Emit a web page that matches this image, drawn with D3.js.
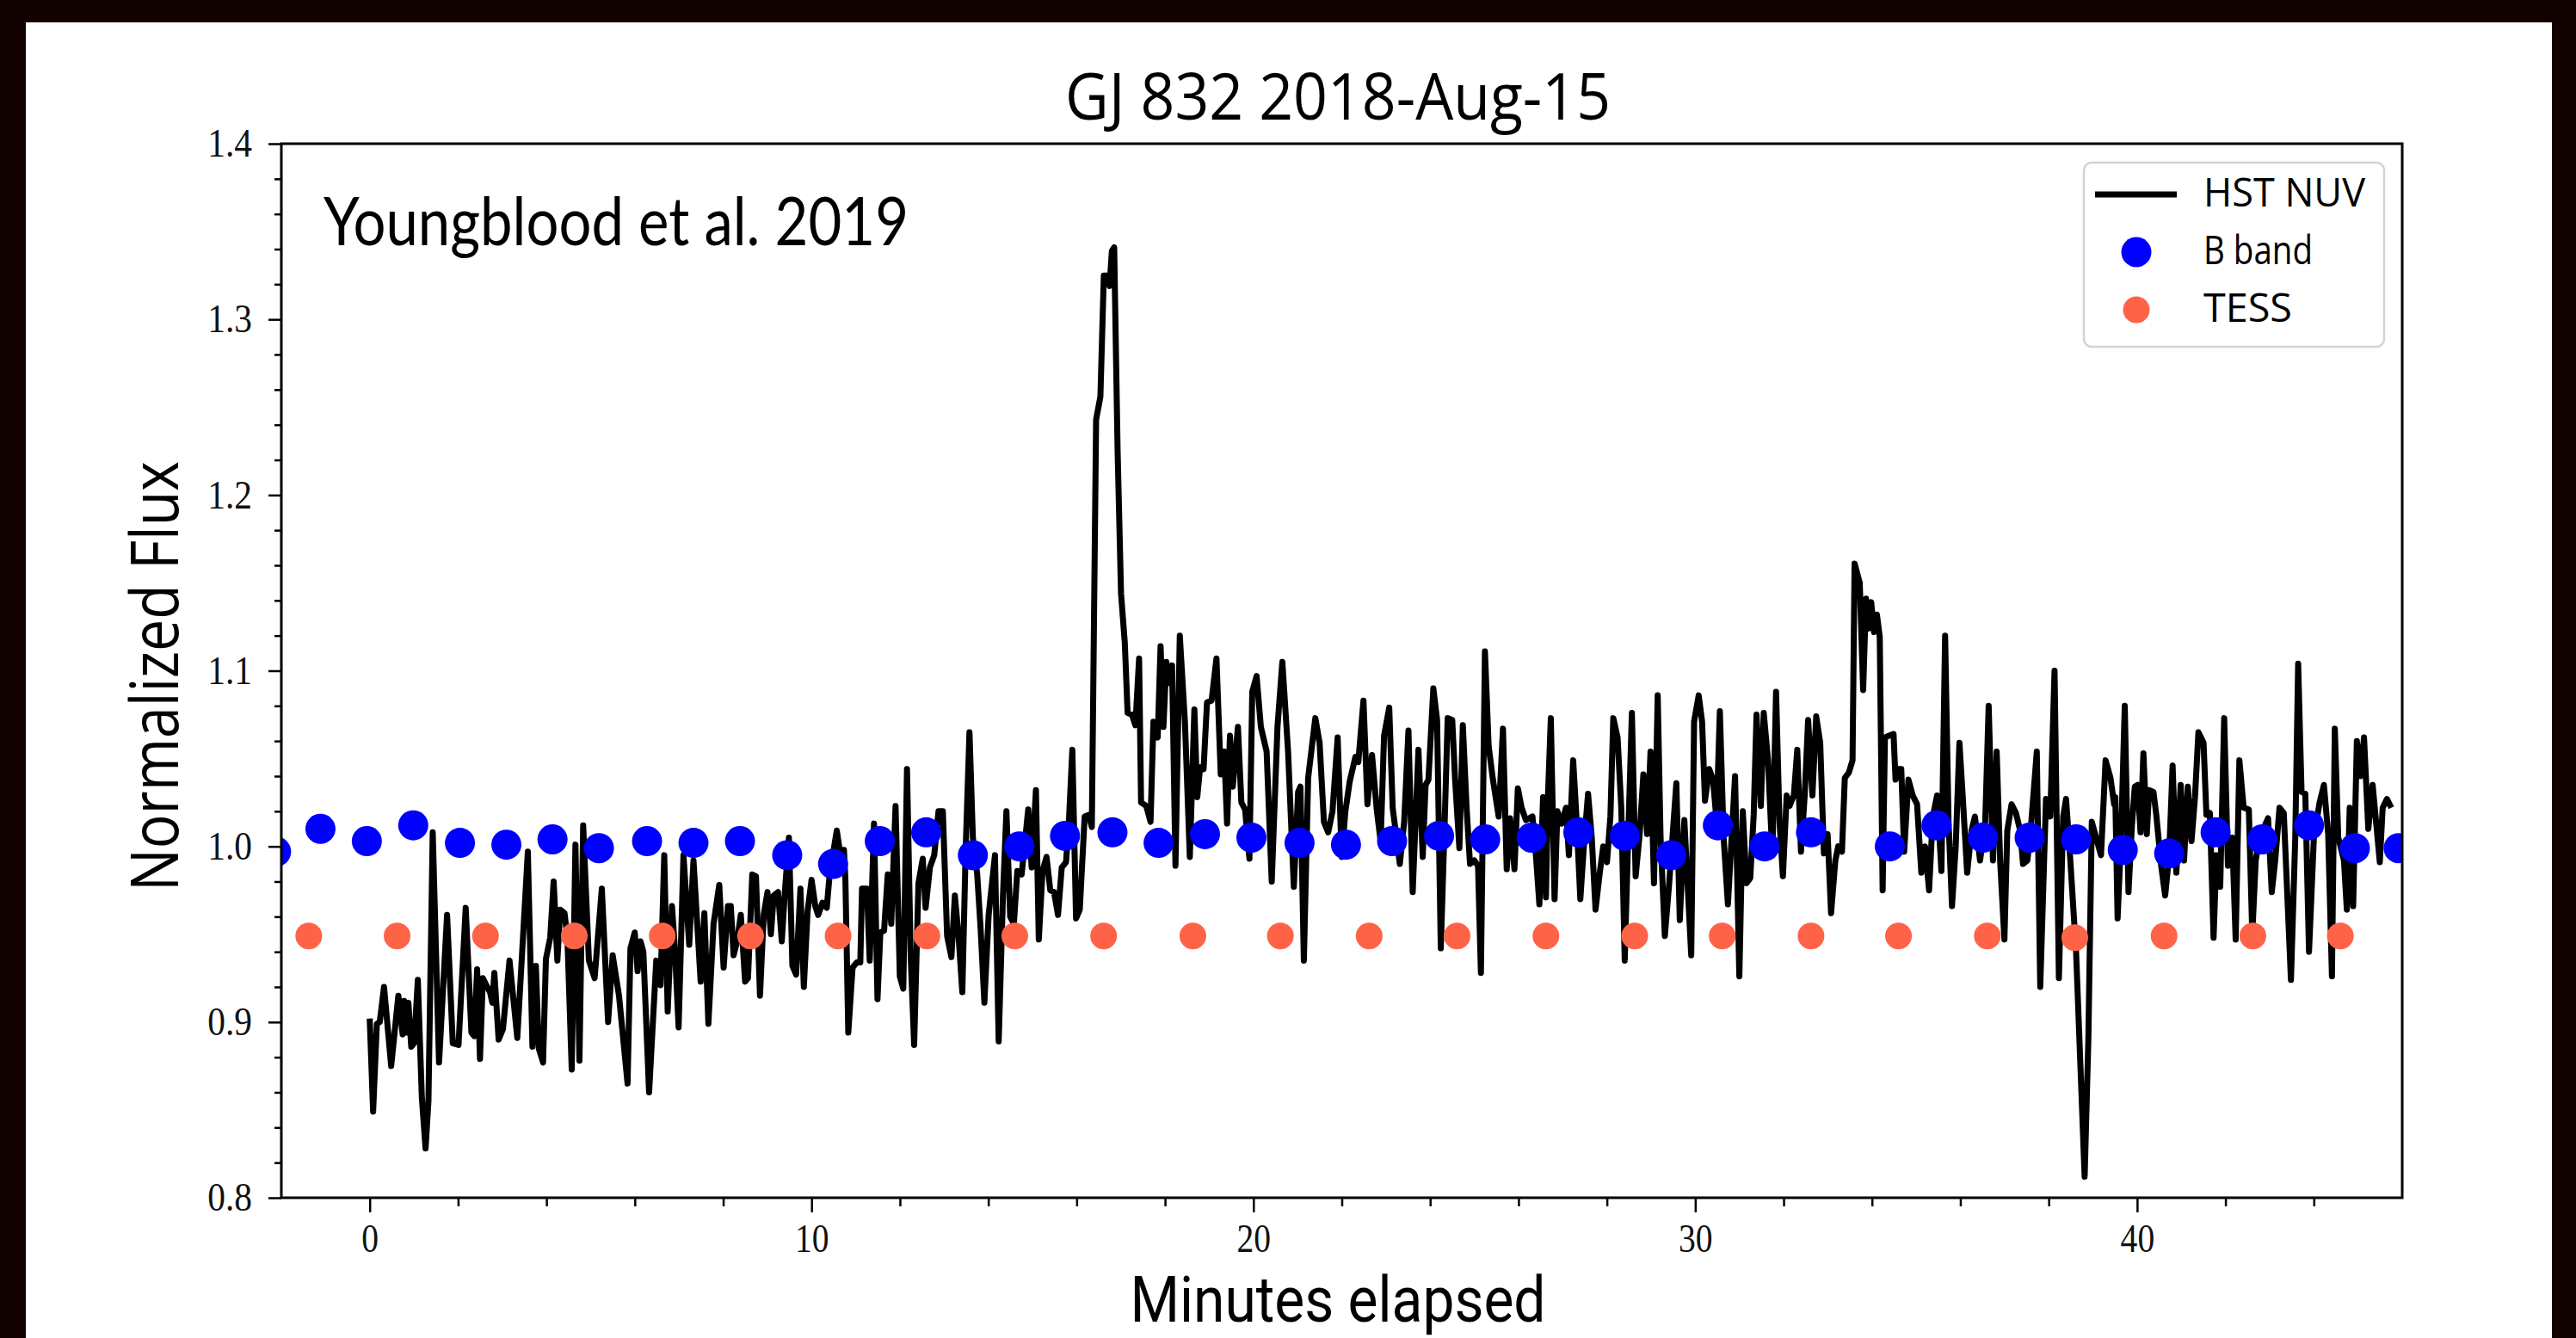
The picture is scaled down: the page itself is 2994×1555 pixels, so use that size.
<!DOCTYPE html>
<html lang="en">
<head>
<meta charset="utf-8">
<title>GJ 832 2018-Aug-15</title>
<script src="https://d3js.org/d3.v7.min.js"></script>
<style>
  body { margin: 0; background: #120101; }
  .tick text { font-family: "Liberation Serif", serif; font-size: 46px; fill: #111; }
  .tick line { stroke: #000; stroke-width: 2.5; }
  .sans { font-family: "Open Sans", sans-serif; fill: #000; }
</style>
</head>
<body>
<script>
// HST NUV light curve: [minutes elapsed, normalized flux]
var hst = [
  [0.000,0.902],[0.077,0.849],[0.162,0.899],[0.227,0.900],[0.324,0.920],[0.486,0.875],[0.648,0.915],[0.745,0.893],[0.778,0.912],[0.843,0.894],
  [0.875,0.911],[0.940,0.886],[1.005,0.888],[1.089,0.924],[1.180,0.857],[1.264,0.828],[1.329,0.855],[1.426,1.008],[1.569,0.877],[1.751,0.961],
  [1.880,0.888],[2.010,0.887],[2.172,0.965],[2.302,0.894],[2.367,0.892],[2.431,0.930],[2.496,0.879],[2.561,0.925],[2.658,0.920],[2.723,0.917],
  [2.775,0.911],[2.821,0.928],[2.918,0.890],[3.015,0.896],[3.164,0.935],[3.340,0.891],[3.579,0.997],[3.683,0.886],[3.761,0.932],[3.826,0.885],
  [3.923,0.877],[3.988,0.936],[4.085,0.948],[4.163,0.980],[4.247,0.935],[4.312,0.964],[4.409,0.962],[4.474,0.948],[4.572,0.873],[4.656,1.001],
  [4.747,0.878],[4.831,1.012],[4.961,0.935],[5.090,0.925],[5.253,0.976],[5.395,0.900],[5.499,0.938],[5.642,0.915],[5.836,0.865],[5.901,0.942],
  [5.998,0.951],[6.063,0.929],[6.128,0.946],[6.193,0.940],[6.323,0.860],[6.485,0.935],[6.582,0.921],[6.666,0.995],[6.744,0.906],[6.841,0.966],
  [6.906,0.942],[6.991,0.897],[7.101,0.995],[7.231,0.944],[7.328,0.992],[7.490,0.923],[7.574,0.962],[7.665,0.899],[7.782,0.956],[7.911,0.978],
  [8.010,0.931],[8.107,0.966],[8.172,0.966],[8.236,0.938],[8.314,0.946],[8.399,0.961],[8.496,0.923],[8.561,0.925],[8.658,0.984],[8.742,0.983],
  [8.833,0.915],[8.917,0.961],[9.002,0.974],[9.080,0.950],[9.144,0.972],[9.242,0.974],[9.326,0.946],[9.404,0.977],[9.488,1.005],[9.566,0.932],
  [9.650,0.927],[9.748,0.976],[9.825,0.920],[9.910,0.963],[10.000,0.981],[10.085,0.966],[10.150,0.961],[10.247,0.968],[10.344,0.965],[10.409,0.984],
  [10.571,1.009],[10.636,0.998],[10.733,0.998],[10.766,0.981],[10.831,0.894],[10.928,0.931],[11.025,0.934],[11.103,0.934],[11.142,0.976],[11.252,0.976],
  [11.317,0.935],[11.414,1.013],[11.492,0.913],[11.557,0.951],[11.641,0.952],[11.725,0.984],[11.803,0.956],[11.901,1.023],[11.998,0.926],[12.076,0.919],
  [12.160,1.044],[12.244,0.937],[12.322,0.887],[12.419,0.979],[12.517,0.993],[12.581,0.965],[12.679,0.988],[12.776,0.995],[12.873,1.020],[12.971,1.020],
  [13.068,0.949],[13.165,0.937],[13.243,0.972],[13.327,0.949],[13.412,0.917],[13.490,1.000],[13.574,1.065],[13.651,1.005],[13.749,0.984],[13.827,0.953],
  [13.911,0.911],[14.008,0.961],[14.151,0.995],[14.235,0.889],[14.332,0.972],[14.410,1.020],[14.495,0.960],[14.579,0.956],[14.657,0.986],[14.754,0.984],
  [14.819,1.000],[14.903,1.021],[14.981,0.988],[15.078,1.032],[15.143,0.947],[15.227,0.986],[15.318,0.994],[15.403,0.975],[15.487,0.974],[15.578,0.961],
  [15.662,0.988],[15.759,0.991],[15.824,1.014],[15.902,1.055],[15.986,0.959],[16.070,0.964],[16.181,1.017],[16.278,1.018],[16.343,1.011],[16.440,1.243],
  [16.537,1.256],[16.615,1.325],[16.699,1.325],[16.745,1.319],[16.797,1.339],[16.849,1.341],[16.926,1.226],[17.004,1.144],[17.089,1.116],[17.153,1.076],
  [17.251,1.075],[17.329,1.069],[17.413,1.107],[17.458,1.025],[17.575,1.023],[17.672,1.014],[17.737,1.071],[17.834,1.062],[17.899,1.114],[17.964,1.068],
  [18.029,1.105],[18.094,1.093],[18.159,1.103],[18.236,0.989],[18.334,1.120],[18.450,1.071],[18.561,0.994],[18.664,1.078],[18.729,1.028],[18.794,1.045],
  [18.872,1.044],[18.950,1.082],[19.054,1.083],[19.164,1.107],[19.261,1.041],[19.339,1.054],[19.404,1.013],[19.469,1.063],[19.533,1.034],[19.650,1.068],
  [19.728,1.025],[19.812,1.021],[19.910,0.993],[19.974,1.088],[20.072,1.097],[20.169,1.068],[20.299,1.054],[20.415,0.980],[20.545,1.068],[20.655,1.105],
  [20.785,1.054],[20.915,0.977],[21.012,1.031],[21.064,1.034],[21.142,0.935],[21.239,1.039],[21.401,1.073],[21.498,1.059],[21.596,1.014],[21.693,1.008],
  [21.790,1.020],[21.907,1.062],[21.998,0.994],[22.082,1.020],[22.180,1.037],[22.309,1.051],[22.374,1.048],[22.491,1.083],[22.581,1.024],[22.685,1.052],
  [22.795,1.020],[22.880,1.003],[22.957,1.063],[23.074,1.079],[23.152,1.022],[23.314,0.990],[23.412,1.014],[23.509,1.066],[23.605,0.974],[23.735,1.055],
  [23.832,0.994],[23.897,1.035],[23.962,1.038],[24.072,1.090],[24.157,1.072],[24.241,0.942],[24.319,1.005],[24.397,1.073],[24.500,1.072],[24.565,1.038],
  [24.662,0.999],[24.740,1.069],[24.825,1.022],[24.902,0.990],[24.999,0.992],[25.084,0.989],[25.149,0.928],[25.240,1.111],[25.324,1.057],[25.421,1.038],
  [25.551,1.017],[25.648,1.067],[25.733,0.987],[25.810,1.016],[25.908,0.987],[25.985,1.033],[26.070,1.022],[26.167,1.015],[26.316,1.017],[26.394,0.995],
  [26.472,0.967],[26.556,1.028],[26.621,0.971],[26.666,1.028],[26.731,1.073],[26.816,0.970],[26.880,1.020],[26.978,1.013],[27.075,1.022],[27.140,0.995],
  [27.237,1.049],[27.315,1.015],[27.399,0.970],[27.484,1.002],[27.574,1.030],[27.658,1.005],[27.743,0.964],[27.834,0.984],[27.918,1.000],[28.002,0.991],
  [28.080,1.017],[28.145,1.073],[28.242,1.062],[28.326,1.022],[28.404,0.935],[28.482,1.005],[28.566,1.076],[28.651,0.983],[28.742,1.007],[28.826,1.041],
  [28.910,1.007],[28.988,1.054],[29.066,0.979],[29.150,1.086],[29.215,1.005],[29.312,0.949],[29.410,0.979],[29.572,1.036],[29.650,0.958],[29.753,1.015],
  [29.909,0.938],[29.974,1.071],[30.078,1.086],[30.155,1.071],[30.220,1.026],[30.317,1.044],[30.402,1.038],[30.480,1.015],[30.557,1.077],[30.642,1.005],
  [30.739,0.967],[30.901,1.040],[30.998,0.926],[31.076,1.020],[31.160,0.979],[31.245,0.982],[31.323,1.018],[31.387,1.075],[31.485,1.023],[31.550,1.076],
  [31.647,1.049],[31.745,0.995],[31.829,1.088],[31.907,1.014],[31.984,0.983],[32.069,1.029],[32.134,1.023],[32.231,1.029],[32.309,1.055],[32.393,0.997],
  [32.477,1.029],[32.555,1.072],[32.652,1.029],[32.737,1.074],[32.828,1.059],[32.912,0.996],[32.996,1.007],[33.074,0.962],[33.171,0.992],[33.236,1.000],
  [33.320,0.997],[33.385,1.039],[33.476,1.042],[33.560,1.049],[33.606,1.161],[33.723,1.150],[33.800,1.089],[33.865,1.141],[33.917,1.124],[33.982,1.139],
  [34.047,1.122],[34.112,1.132],[34.176,1.119],[34.241,0.975],[34.293,1.062],[34.384,1.063],[34.488,1.064],[34.533,1.038],[34.598,1.044],[34.663,1.044],
  [34.728,0.997],[34.825,1.038],[34.922,1.029],[35.020,1.024],[35.117,0.985],[35.201,1.000],[35.292,0.975],[35.376,1.017],[35.474,1.029],[35.571,0.986],
  [35.655,1.120],[35.733,1.014],[35.811,0.966],[35.895,1.000],[35.979,1.059],[36.057,1.027],[36.154,0.985],[36.252,1.009],[36.329,1.017],[36.446,0.992],
  [36.563,1.014],[36.641,1.080],[36.738,0.992],[36.822,1.054],[36.900,0.992],[36.997,0.947],[37.062,1.009],[37.160,1.024],[37.257,1.019],[37.354,1.009],
  [37.419,0.990],[37.516,0.992],[37.581,1.006],[37.730,1.054],[37.808,0.920],[37.938,1.027],[38.035,1.017],[38.132,1.100],[38.230,0.925],[38.327,1.017],
  [38.392,1.027],[38.489,0.992],[38.619,0.940],[38.813,0.812],[38.897,0.890],[38.975,1.014],[39.073,1.005],[39.183,0.995],[39.287,1.049],[39.397,1.039],
  [39.481,1.024],[39.507,1.028],[39.559,0.959],[39.637,1.005],[39.721,1.080],[39.805,0.974],[39.883,1.012],[39.948,1.034],[40.013,1.035],[40.078,1.008],
  [40.143,1.053],[40.220,1.007],[40.272,1.032],[40.370,1.031],[40.434,1.018],[40.545,0.989],[40.635,0.972],[40.726,0.995],[40.804,1.046],[40.888,0.985],
  [40.986,1.035],[41.063,0.992],[41.148,1.034],[41.232,1.003],[41.310,1.028],[41.388,1.065],[41.504,1.059],[41.569,1.018],[41.647,1.019],[41.731,0.948],
  [41.796,0.995],[41.881,0.977],[41.971,1.073],[42.056,0.989],[42.153,1.005],[42.231,0.947],[42.315,1.049],[42.412,1.022],[42.529,1.021],[42.607,0.950],
  [42.685,0.992],[42.769,1.005],[42.964,1.016],[43.048,0.974],[43.126,0.992],[43.223,1.022],[43.320,1.019],[43.482,0.924],[43.580,1.005],[43.645,1.104],
  [43.722,1.031],[43.807,1.030],[43.891,0.940],[44.001,1.005],[44.131,1.025],[44.228,1.035],[44.325,1.007],[44.410,0.926],[44.475,1.067],[44.552,1.005],
  [44.682,0.992],[44.747,0.964],[44.812,1.022],[44.890,0.966],[44.974,1.060],[45.058,1.040],[45.136,1.062],[45.233,1.010],[45.331,1.035],[45.493,0.991],
  [45.558,1.022],[45.655,1.027],[45.753,1.022]
];

// B band photometry
var bandTime = [-2.12, -1.115, -0.065, 0.985, 2.042, 3.093, 4.137, 5.188, 6.277, 7.328, 8.379, 9.449, 10.487, 11.544, 12.594, 13.651,
  14.702, 15.736, 16.810, 17.854, 18.904, 19.955, 21.044, 22.095, 23.139, 24.202, 25.246, 26.297, 27.354, 28.404, 29.455, 30.512,
  31.570, 32.620, 34.403, 35.460, 36.511, 37.568, 38.619, 39.676, 40.726, 41.777, 42.834, 43.891, 44.929, 45.92];
var bandFlux = [0.997, 1.010, 1.003, 1.012, 1.002, 1.001, 1.004, 0.999, 1.003, 1.002, 1.003, 0.995, 0.990, 1.003, 1.008, 0.995,
  1.000, 1.006, 1.008, 1.002, 1.007, 1.005, 1.002, 1.001, 1.003, 1.006, 1.004, 1.005, 1.008, 1.006, 0.995, 1.012,
  1.000, 1.008, 1.000, 1.012, 1.005, 1.005, 1.004, 0.998, 0.996, 1.008, 1.004, 1.012, 0.999, 0.999];

// TESS 2-minute cadence
var tessTime = [-1.38, 0.62, 2.62, 4.63, 6.62, 8.62, 10.60, 12.61, 14.60, 16.61, 18.63, 20.61,
  22.62, 24.61, 26.62, 28.63, 30.61, 32.62, 34.60, 36.61, 38.59, 40.61, 42.62, 44.60];
var tessFlux = [0.949, 0.949, 0.949, 0.949, 0.949, 0.949, 0.949, 0.949, 0.949, 0.949, 0.949, 0.949,
  0.949, 0.949, 0.949, 0.949, 0.949, 0.949, 0.949, 0.949, 0.948, 0.949, 0.949, 0.949];

var xMajor = [0, 10, 20, 30, 40];
var yMajor = [0.8, 0.9, 1.0, 1.1, 1.2, 1.3, 1.4];
var legendLabels = ['HST NUV', 'B band', 'TESS'];

var W = 2994, H = 1555;
var plot = {left: 327, right: 2792, top: 167, bottom: 1392};

var svg = d3.select('body').append('svg')
    .attr('width', W)
    .attr('height', H)
    .style('display', 'block');

svg.append('rect')
    .attr('x', 30).attr('y', 26)
    .attr('width', 2936).attr('height', H - 26)
    .attr('fill', '#fff');

var x = d3.scaleLinear().domain([-2, 46]).range([plot.left, plot.right]);
var y = d3.scaleLinear().domain([0.8, 1.4]).range([plot.bottom, plot.top]);

var xMinor = x.ticks(24).filter(function(v) { return v % 10 !== 0 && v > -2 && v < 46; });
var yMinor = y.ticks(30).filter(function(v) { return Math.abs(v * 10 - Math.round(v * 10)) > 1e-6; });

// squeeze text horizontally, the source figure is a bit condensed
function squeeze(sel, k) {
  sel.each(function() {
    var w = this.getComputedTextLength();
    d3.select(this).attr('textLength', w * k).attr('lengthAdjust', 'spacingAndGlyphs');
  });
}

// axes
var gxMinor = svg.append('g').attr('transform', 'translate(0,' + plot.bottom + ')')
    .call(d3.axisBottom(x).tickValues(xMinor).tickSize(10).tickFormat(''));
var gx = svg.append('g').attr('transform', 'translate(0,' + plot.bottom + ')')
    .call(d3.axisBottom(x).tickValues(xMajor).tickSize(17).tickPadding(13).tickFormat(d3.format('d')));
var gyMinor = svg.append('g').attr('transform', 'translate(' + plot.left + ',0)')
    .call(d3.axisLeft(y).tickValues(yMinor).tickSize(8).tickFormat(''));
var gy = svg.append('g').attr('transform', 'translate(' + plot.left + ',0)')
    .call(d3.axisLeft(y).tickValues(yMajor).tickSize(15).tickPadding(19).tickFormat(d3.format('.1f')));

svg.selectAll('.domain').remove();
svg.selectAll('.tick text').attr('font-family', null).attr('font-size', null);
squeeze(gx.selectAll('.tick text'), 0.86);
squeeze(gy.selectAll('.tick text'), 0.9);

// data
svg.append('clipPath').attr('id', 'plotclip')
  .append('rect')
    .attr('x', plot.left).attr('y', plot.top)
    .attr('width', plot.right - plot.left).attr('height', plot.bottom - plot.top);

var data = svg.append('g').attr('clip-path', 'url(#plotclip)');

var line = d3.line()
    .x(function(d) { return x(d[0]); })
    .y(function(d) { return y(d[1]); });

data.append('path')
    .datum(hst)
    .attr('d', line)
    .attr('fill', 'none')
    .attr('stroke', '#000')
    .attr('stroke-width', 7)
    .attr('stroke-linejoin', 'round');

data.selectAll('.band')
    .data(bandTime)
  .enter().append('circle')
    .attr('class', 'band')
    .attr('cx', function(d) { return x(d); })
    .attr('cy', function(d, i) { return y(bandFlux[i]); })
    .attr('r', 17.5)
    .attr('fill', '#0000ff');

data.selectAll('.tess')
    .data(tessTime)
  .enter().append('circle')
    .attr('class', 'tess')
    .attr('cx', function(d) { return x(d); })
    .attr('cy', function(d, i) { return y(tessFlux[i]); })
    .attr('r', 15.5)
    .attr('fill', 'tomato');

// spines
svg.append('rect')
    .attr('x', plot.left).attr('y', plot.top)
    .attr('width', plot.right - plot.left).attr('height', plot.bottom - plot.top)
    .attr('fill', 'none')
    .attr('stroke', '#000')
    .attr('stroke-width', 3);

// titles
svg.append('text').attr('class', 'sans')
    .attr('x', 1555).attr('y', 139)
    .attr('text-anchor', 'middle')
    .attr('font-size', 75)
    .attr('textLength', 634).attr('lengthAdjust', 'spacingAndGlyphs')
    .text('GJ 832 2018-Aug-15');

svg.append('text')
    .attr('x', 1555).attr('y', 1536)
    .attr('text-anchor', 'middle')
    .attr('font-family', 'Roboto, sans-serif')
    .attr('font-size', 75)
    .attr('textLength', 483).attr('lengthAdjust', 'spacingAndGlyphs')
    .text('Minutes elapsed');

svg.append('text').attr('class', 'sans')
    .attr('transform', 'translate(207,786) rotate(-90)')
    .attr('text-anchor', 'middle')
    .attr('font-size', 77)
    .attr('textLength', 500).attr('lengthAdjust', 'spacingAndGlyphs')
    .text('Normalized Flux');

svg.append('text')
    .attr('x', 376).attr('y', 285)
    .attr('font-family', 'Lato, sans-serif')
    .attr('font-size', 77)
    .attr('textLength', 680).attr('lengthAdjust', 'spacingAndGlyphs')
    .text('Youngblood et al. 2019');

// legend
var legend = svg.append('g');
legend.append('rect')
    .attr('x', 2422).attr('y', 189)
    .attr('width', 349).attr('height', 214)
    .attr('rx', 9)
    .attr('fill', '#fff')
    .attr('stroke', '#d3d3d3')
    .attr('stroke-width', 2.5);
legend.append('line')
    .attr('x1', 2435).attr('x2', 2530)
    .attr('y1', 226).attr('y2', 226)
    .attr('stroke', '#000').attr('stroke-width', 7);
legend.append('circle').attr('cx', 2483).attr('cy', 293).attr('r', 17.5).attr('fill', '#0000ff');
legend.append('circle').attr('cx', 2483).attr('cy', 360).attr('r', 15.5).attr('fill', 'tomato');

var legendWidths = [188, 127, 103];
legend.selectAll('.lbl')
    .data(legendLabels)
  .enter().append('text')
    .attr('class', 'sans lbl')
    .attr('x', 2561)
    .attr('y', function(d, i) { return 240 + i * 67; })
    .attr('font-size', 45)
    .attr('textLength', function(d, i) { return legendWidths[i]; })
    .attr('lengthAdjust', 'spacingAndGlyphs')
    .text(function(d) { return d; });
</script>
</body>
</html>
